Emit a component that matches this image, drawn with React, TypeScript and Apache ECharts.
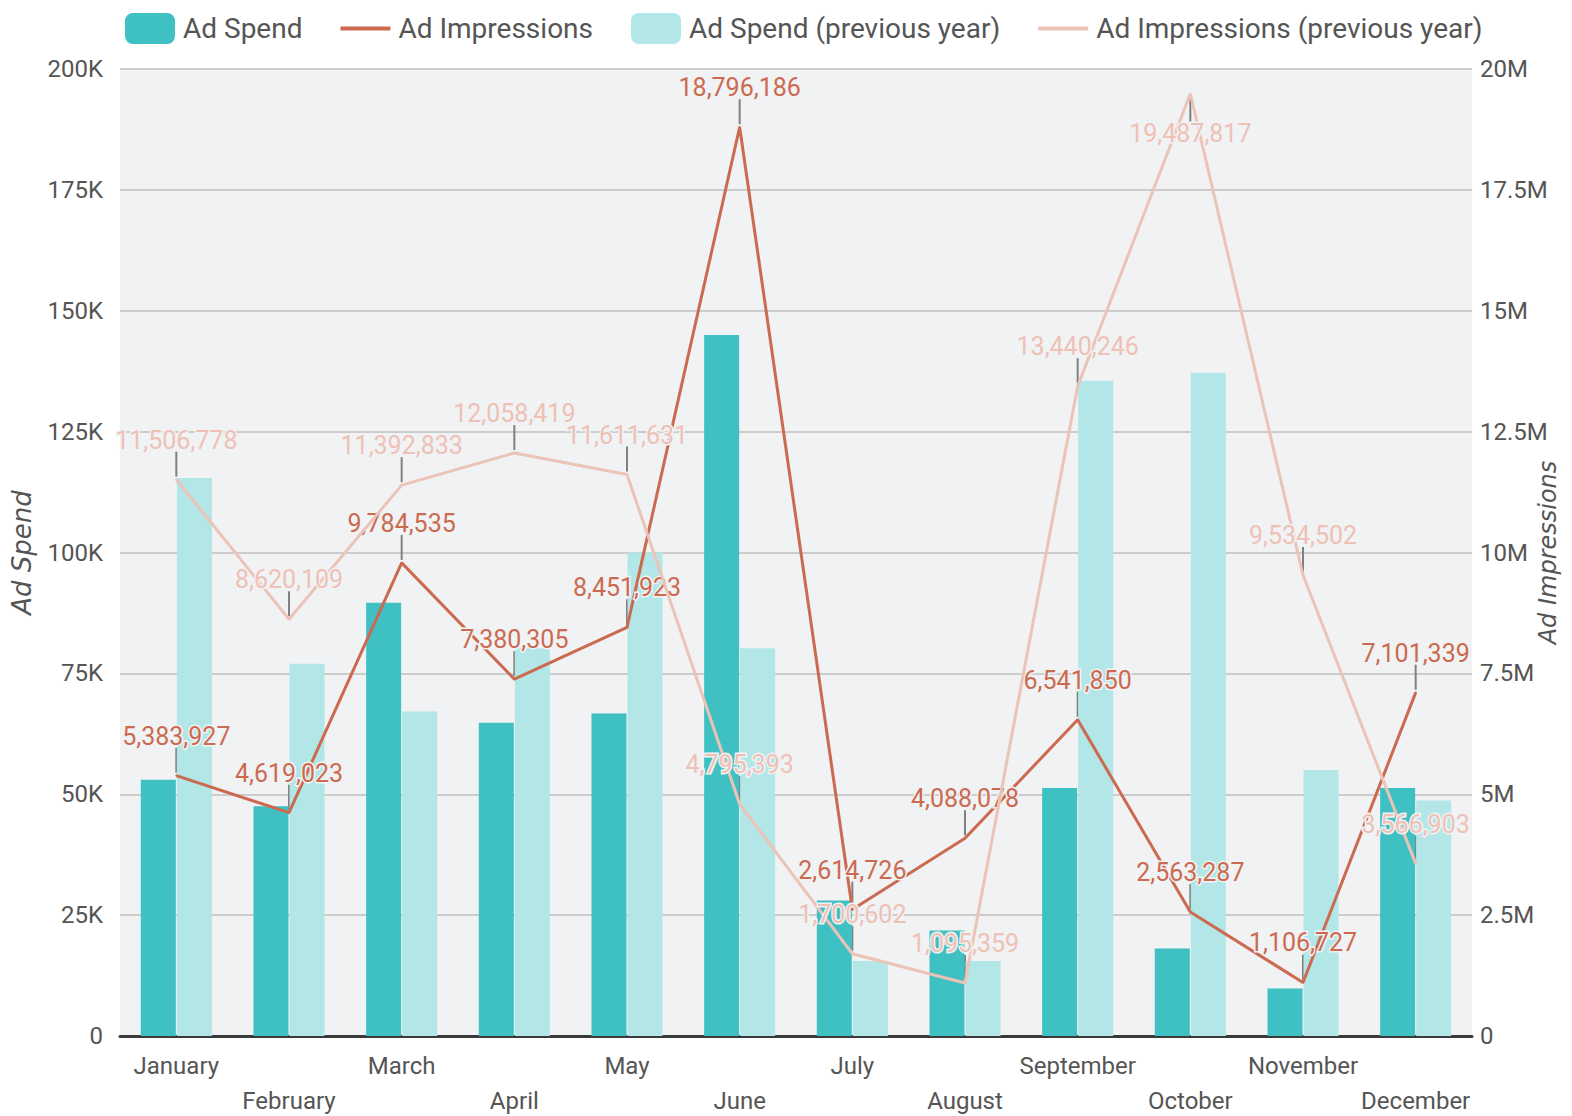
import React, { useEffect, useRef } from "react";
import * as echarts from "echarts";

const months = ["January", "February", "March", "April", "May", "June", "July", "August", "September", "October", "November", "December"];
const adSpend = [53000, 47500, 89600, 64800, 66700, 145000, 28000, 21800, 51300, 18100, 9800, 51300];
const adSpendPrev = [115400, 77000, 67100, 80200, 100000, 80200, 15500, 15500, 135500, 137200, 55000, 48700];
const adImpressions = [5383927, 4619023, 9784535, 7380305, 8451923, 18796186, 2614726, 4088078, 6541850, 2563287, 1106727, 7101339];
const adImpressionsPrev = [11506778, 8620109, 11392833, 12058419, 11611631, 4795393, 1700602, 1095359, 13440246, 19487817, 9534502, 3566903];
// indices whose labels sit below the point (no room above)
const prevLabelsBelow = [9];

const NUM_FONT = "'Roboto', sans-serif";
const TXT_FONT = "'Roboto', sans-serif";
const BG = "#f1f2f4";
const C_SPEND = "#3fc0c2";
const C_SPEND_PREV = "#b3e6e6";
const C_IMP = "#cc6a50";
const C_IMP_PREV = "#ecc3b7";
const LINE_ICON = "path://M0,0M50,31M0,13.5H50V17.5H0Z";

export default function App() {
  const ref = useRef<HTMLDivElement>(null);
  useEffect(() => {
    if (!ref.current) return;
    const chart = echarts.init(ref.current, null, { renderer: "svg" });
    const LABEL_DIST = 26;
    const lineLabel = (color: string) => ({
      show: true,
      position: "top",
      distance: LABEL_DIST,
      color,
      fontSize: 25,
      fontFamily: NUM_FONT,
      textBorderColor: BG,
      textBorderWidth: 3,
      formatter: (p: any) => Number(p.value).toLocaleString("en-US"),
    });
    const guideSeries = (values: number[], below: number[]) => ({
      type: "custom",
      yAxisIndex: 1,
      silent: true,
      z: 2,
      data: values.map((v, i) => [i, v]),
      renderItem: (params: any, api: any) => {
        const p = api.coord([api.value(0), api.value(1)]);
        const dir = below.indexOf(params.dataIndex) >= 0 ? 1 : -1;
        return {
          type: "line",
          shape: { x1: p[0], y1: p[1] + dir * 3, x2: p[0], y2: p[1] + dir * 28 },
          style: { stroke: "#808080", lineWidth: 2 },
        };
      },
    });
    chart.setOption({
      animation: false,
      backgroundColor: "#ffffff",
      legend: {
        left: 120,
        top: 8,
        itemWidth: 50,
        itemHeight: 31,
        itemGap: 38,
        textStyle: { fontSize: 28, fontFamily: TXT_FONT, color: "#555555", padding: [0, 0, 0, 3] },
        data: [
          { name: "Ad Spend" },
          { name: "Ad Impressions", icon: LINE_ICON },
          { name: "Ad Spend (previous year)" },
          { name: "Ad Impressions (previous year)", icon: LINE_ICON },
        ],
      },
      grid: {
        left: 120,
        right: 100,
        top: 69,
        bottom: 80,
        containLabel: false,
        outerBoundsMode: "none",
        show: true,
        backgroundColor: BG,
        borderWidth: 0,
      },
      xAxis: {
        type: "category",
        data: months,
        axisLine: { lineStyle: { color: "#3a3a3a", width: 3 } },
        axisTick: { show: false },
        axisLabel: {
          interval: 0,
          margin: 12,
          fontSize: 24,
          lineHeight: 35,
          fontFamily: TXT_FONT,
          color: "#555555",
          formatter: (v: string, i: number) => (i % 2 ? "\n" + v : v),
        },
      },
      yAxis: [
        {
          type: "value",
          min: 0,
          max: 200000,
          interval: 25000,
          name: "Ad Spend",
          nameLocation: "middle",
          nameRotate: 90,
          nameGap: 85,
          nameMoveOverlap: false,
          nameTextStyle: { fontSize: 26, fontStyle: "italic", fontFamily: "'DejaVu Sans', sans-serif", color: "#555555" },
          axisLine: { show: false },
          axisTick: { show: false },
          axisLabel: {
            margin: 17,
            fontSize: 24,
            fontFamily: NUM_FONT,
            color: "#555555",
            formatter: (v: number) => (v === 0 ? "0" : v / 1000 + "K"),
          },
          splitLine: { lineStyle: { color: "#cccccc", width: 2 } },
        },
        {
          type: "value",
          min: 0,
          max: 20000000,
          interval: 2500000,
          name: "Ad Impressions",
          nameLocation: "middle",
          nameRotate: 90,
          nameGap: 64,
          nameMoveOverlap: false,
          nameTextStyle: { fontSize: 24, fontStyle: "italic", fontFamily: "'DejaVu Sans', sans-serif", color: "#555555" },
          axisLine: { show: false },
          axisTick: { show: false },
          axisLabel: {
            margin: 8,
            fontSize: 24,
            fontFamily: NUM_FONT,
            color: "#555555",
            formatter: (v: number) => (v === 0 ? "0" : v / 1000000 + "M"),
          },
          splitLine: { show: false },
        },
      ],
      series: [
        {
          name: "Ad Spend",
          type: "bar",
          data: adSpend,
          barWidth: 35,
          barGap: "3%",
          itemStyle: { color: C_SPEND },
        },
        {
          name: "Ad Impressions",
          type: "line",
          yAxisIndex: 1,
          data: adImpressions,
          symbol: "circle",
          symbolSize: 2,
          showSymbol: true,
          lineStyle: { color: C_IMP, width: 3 },
          itemStyle: { color: C_IMP },
          label: lineLabel(C_IMP),
          z: 3,
        },
        {
          name: "Ad Spend (previous year)",
          type: "bar",
          data: adSpendPrev,
          barWidth: 35,
          barGap: "3%",
          itemStyle: { color: C_SPEND_PREV },
        },
        {
          name: "Ad Impressions (previous year)",
          type: "line",
          yAxisIndex: 1,
          data: adImpressionsPrev.map((v, i) =>
            prevLabelsBelow.indexOf(i) >= 0 ? { value: v, label: { position: "bottom" } } : v
          ),
          symbol: "circle",
          symbolSize: 2,
          showSymbol: true,
          lineStyle: { color: C_IMP_PREV, width: 3 },
          itemStyle: { color: C_IMP_PREV },
          label: lineLabel("#eec1b4"),
          z: 4,
        },
        guideSeries(adImpressions, []),
        guideSeries(adImpressionsPrev, prevLabelsBelow),
      ],
    });
    return () => chart.dispose();
  }, []);
  return (
    <div
      ref={ref}
      style={{ position: "fixed", left: 0, top: 0, width: 1572, height: 1116 }}
    />
  );
}
